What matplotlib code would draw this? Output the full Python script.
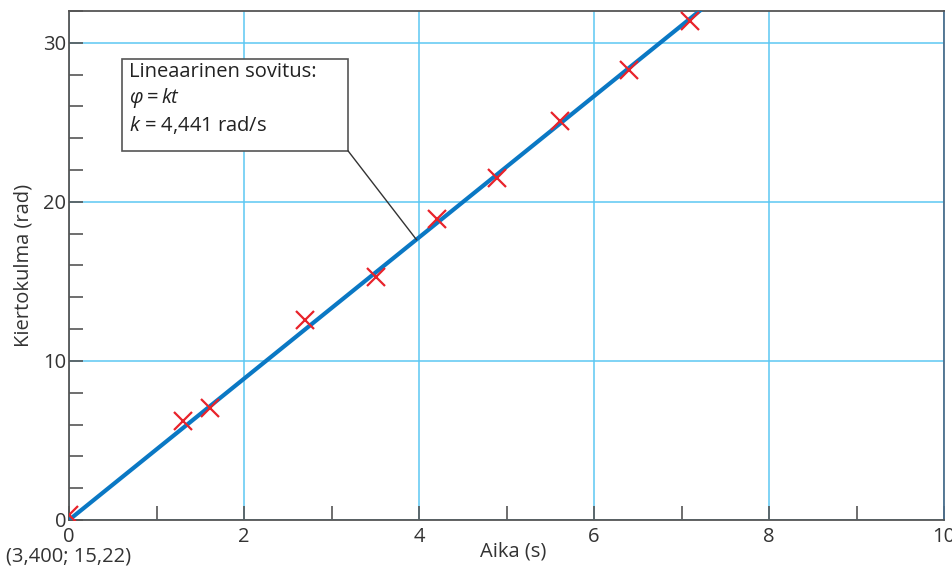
import numpy as np
import matplotlib
matplotlib.use("Agg")
import matplotlib.pyplot as plt
from matplotlib.patches import Rectangle

plt.rcParams["font.family"] = ["Open Sans", "DejaVu Sans"]
plt.rcParams["mathtext.fontset"] = "custom"
plt.rcParams["mathtext.rm"] = "Open Sans"
plt.rcParams["mathtext.it"] = "Open Sans:italic"

# mittaustulokset (aika s, kiertokulma rad)
t = [0.0, 1.30, 1.61, 2.70, 3.51, 4.21, 4.89, 5.61, 6.40, 7.10]
phi = [0.3, 6.2, 7.05, 12.6, 15.3, 18.9, 21.5, 25.1, 28.3, 31.4]
k = 4.441
origin_label = "(3,400; 15,22)"

grid_col = "#5cc8f2"
axis_col = "#555555"
text_col = "#333333"
fs = 14.5

fig = plt.figure(figsize=(9.53, 5.67), dpi=100)
ax = fig.add_axes([0.0724, 0.0829, 0.9182, 0.8977])

# sovitettu suora
t_fit = np.array([0, 10])
ax.plot(t_fit, k * t_fit, color="#0a78c4", lw=3, solid_capstyle="butt", zorder=3)
ax.plot(t, phi, "x", color="#e8232b", ms=13, mew=1.6, zorder=4)

ax.set_xlim(0, 10)
ax.set_ylim(0, 32)
ax.set_xticks([0, 2, 4, 6, 8, 10])
ax.set_xticks(np.arange(0, 11, 1), minor=True)
ax.set_yticks([0, 10, 20, 30])
ax.set_yticks(np.arange(0, 33, 2), minor=True)
ax.grid(True, which="major", color=grid_col, lw=1.1, zorder=1)

ax.tick_params(which="both", direction="in", length=10, width=1.2, color=axis_col,
               labelsize=fs, labelcolor=text_col, pad=2)
ax.tick_params(axis="x", pad=5)
for s in ax.spines.values():
    s.set_color(axis_col)
    s.set_linewidth(1.3)
ax.spines["right"].set_color("#4d6f8c")

ax.set_xlabel("Aika (s)", fontsize=fs, color=text_col)
ax.xaxis.set_label_coords(0.508, -0.043)
ax.set_ylabel("Kiertokulma (rad)", fontsize=fs, color=text_col, labelpad=7)
ax.text(0.0, -2.3, origin_label, fontsize=fs, color=text_col, ha="center", va="center",
        clip_on=False)

# selitelaatikko
ax.add_patch(Rectangle((0.61, 23.2), 2.58, 5.8, fill=True, facecolor="white",
                       edgecolor="#555555", lw=1.2, zorder=5))
ax.text(0.69, 28.8, "Lineaarinen sovitus:\n$\\varphi = kt$\n$k$ = 4,441 rad/s",
        fontsize=fs, color="#222222", ha="left", va="top", linespacing=1.25, zorder=6)
t_arrow = 3.97
ax.plot([3.19, t_arrow], [23.2, k * t_arrow], color="#333333", lw=1.0, zorder=5)

fig.savefig("out.png", dpi=100)
